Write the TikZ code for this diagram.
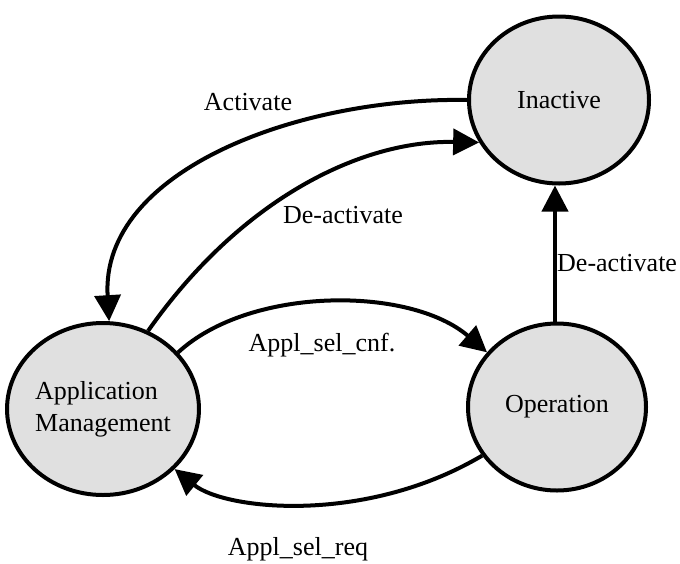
\documentclass[tikz,border=0pt]{standalone}
\usepackage{fontspec}
\setmainfont{Liberation Serif}
\usetikzlibrary{arrows.meta,shapes.geometric}
\definecolor{stategray}{RGB}{224,224,224}
\tikzset{
  state/.style={ellipse, draw=black, line width=4pt, fill=stategray, inner sep=0pt,
    font=\fontsize{26}{32}\selectfont},
  conn/.style={line width=4pt, -{Triangle[length=26pt,width=26pt]}},
  lbl/.style={font=\fontsize{26}{32}\selectfont, inner sep=0pt}
}
\begin{document}
\begin{tikzpicture}[x=1pt,y=-1pt]
\useasboundingbox (0,0) rectangle (680,563);
\node[state, minimum width=180pt, minimum height=167pt] (inact) at (559,100) {Inactive};
\node[state, minimum width=178pt, minimum height=167pt] (op) at (557,407) {Operation};
\node[state, minimum width=180pt, minimum height=172pt, align=left] (am) at (103,409) {Application\\Management};

\coordinate (actS) at (inact.180);
\coordinate (actE) at (am.86);
\draw[conn] (actS) .. controls (300,97) and (100,170) .. (actE);

\coordinate (deS) at (am.60);
\coordinate (deE) at (inact.208);
\draw[conn] (deS) .. controls (240,200) and (360,140) .. (deE);

\coordinate (cnfS) at (am.37);
\coordinate (cnfE) at (op.142);
\draw[conn] (cnfS) .. controls (250,286) and (410,286) .. (cnfE);

\coordinate (reqS) at (op.213);
\coordinate (reqE) at (am.-40);
\draw[conn] (reqS) .. controls (365,525) and (225,510) .. (reqE);

\draw[conn] (op.north -| 555,0) -- (inact.south -| 555,0);

\node[lbl] (lact) at (248,102) {Activate};
\node[lbl] (lde1) at (343,215) {De-activate};
\node[lbl] (lcnf) at (322,345) {Appl\_sel\_cnf.};
\node[lbl] (lreq) at (298,549) {Appl\_sel\_req};
\node[lbl, anchor=west] (lde2) at (557,263) {De-activate};
\end{tikzpicture}
\end{document}
